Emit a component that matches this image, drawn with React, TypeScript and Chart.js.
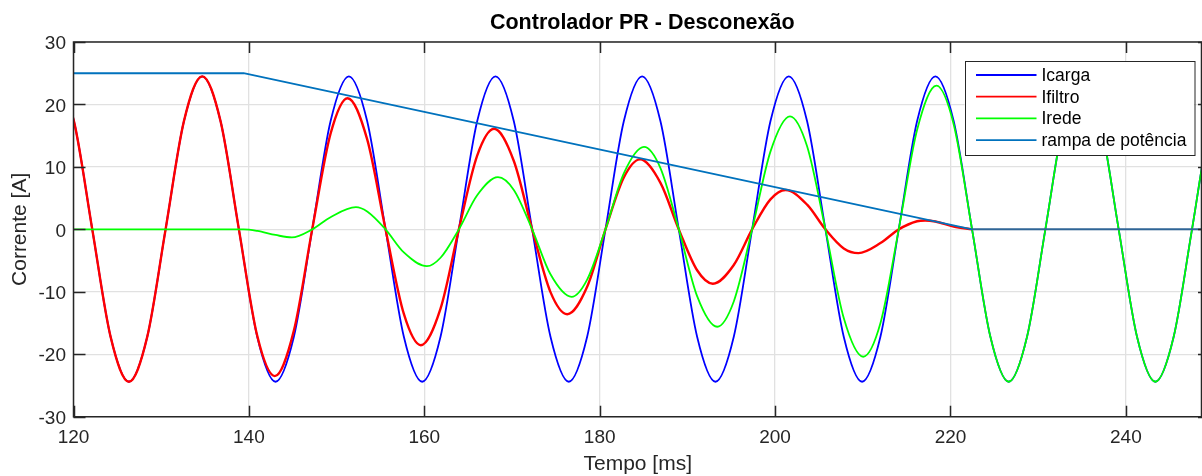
import React, { useEffect, useRef } from 'react';
import { Chart, registerables } from 'chart.js';

Chart.register(...registerables);

const TITLE = 'Controlador PR - Desconexão';
const X_LABEL = 'Tempo [ms]';
const Y_LABEL = 'Corrente [A]';

const xTicks = [120, 140, 160, 180, 200, 220, 240];
const yTicks = [-30, -20, -10, 0, 10, 20, 30];

const seriesNames = ['Icarga', 'Ifiltro', 'Irede', 'rampa de potência'];
const seriesColors = ['#0000ff', '#ff0000', '#00ff00', '#0072bd'];

// Icarga (load current) — time [ms], value [A]
const icargaT = [
  117.96, 120.05, 122.14, 124.23, 126.32, 128.41, 130.5, 132.59,
  134.68, 136.77, 138.86, 140.95, 143.04, 145.13, 147.22, 149.31,
  151.4, 153.49, 155.58, 157.67, 159.76, 161.85, 163.94, 166.03,
  168.12, 170.21, 172.3, 174.39, 176.48, 178.57, 180.66, 182.75,
  184.84, 186.93, 189.02, 191.11, 193.2, 195.29, 197.38, 199.47,
  201.56, 203.65, 205.74, 207.83, 209.92, 212.01, 214.1, 216.19,
  218.28, 220.37, 222.46, 224.55, 226.64, 228.73, 230.82, 232.91,
  235.0, 237.09, 239.18, 241.27, 243.36, 245.45, 247.54, 249.63,
  251.72,
];
const icargaV = [
  24.5, 17.3, 0, -17.2, -24.4, -17.2, 0, 17.3,
  24.5, 17.3, 0, -17.2, -24.4, -17.2, 0, 17.3,
  24.5, 17.3, 0, -17.2, -24.4, -17.2, 0, 17.3,
  24.5, 17.3, 0, -17.2, -24.4, -17.2, 0, 17.3,
  24.5, 17.3, 0, -17.2, -24.4, -17.2, 0, 17.3,
  24.5, 17.3, 0, -17.2, -24.4, -17.2, 0, 17.3,
  24.5, 17.3, 0, -17.2, -24.4, -17.2, 0, 17.3,
  24.5, 17.3, 0, -17.2, -24.4, -17.2, 0, 17.3,
  24.5,
];

// Ifiltro (filter current)
const ifiltroT = [
  117.96, 120.05, 122.14, 124.23, 126.32, 128.41, 130.5, 132.59,
  134.68, 136.77, 138.86, 140.95, 142.95, 145.13, 147.22, 149.31,
  151.25, 153.49, 155.58, 157.67, 159.6, 161.85, 163.94, 166.03,
  167.95, 170.21, 172.3, 174.39, 176.3, 178.57, 180.66, 182.75,
  184.6, 186.93, 189.02, 191.11, 192.9, 195.29, 197.38, 199.47,
  201.2, 203.65, 205.74, 207.83, 209.5, 212.01, 214.1, 216.19,
  217.1, 218.28, 220.37, 222.46,
];
const ifiltroV = [
  24.5, 17.3, 0, -17.2, -24.4, -17.2, 0, 17.3,
  24.5, 17.3, 0, -17.05, -23.5, -16.2, 0, 15.3,
  21.0, 14.4, 0, -13.55, -18.55, -12.7, 0, 11.8,
  16.1, 10.95, 0, -10.05, -13.6, -9.2, 0, 8.3,
  11.2, 7.45, 0, -6.55, -8.7, -5.7, 0, 4.8,
  6.3, 3.95, 0, -3.05, -3.8, -2.2, 0, 1.3,
  1.42, 1.25, 0.45, 0,
];

// Irede (grid current)
const iredeT = [
  117.96, 139.4, 140.95, 143.04, 144.9, 147.22, 149.31, 152.2,
  153.49, 155.58, 157.67, 160.3, 161.85, 163.94, 166.03, 168.4,
  170.21, 172.3, 174.39, 176.8, 178.57, 180.66, 182.75, 185.05,
  186.93, 189.02, 191.11, 193.4, 195.29, 197.38, 199.47, 201.7,
  203.65, 205.74, 207.83, 210.05, 212.01, 214.1, 216.19, 218.4,
  220.37, 222.46, 224.55, 226.64, 228.73, 230.82, 232.91, 235.0,
  237.09, 239.18, 241.27, 243.36, 245.45, 247.54, 249.63, 251.72,
];
const iredeV = [
  0, 0, -0.25, -0.9, -1.3, 0, 1.95, 3.55,
  2.85, 0, -3.7, -5.9, -4.55, 0, 5.45, 8.35,
  6.3, 0, -7.2, -10.8, -8.05, 0, 8.95, 13.2,
  9.8, 0, -10.7, -15.6, -11.55, 0, 12.45, 18.1,
  13.3, 0, -14.2, -20.4, -15.05, 0, 15.9, 23.0,
  16.8, 0, -17.2, -24.4, -17.2, 0, 17.3, 24.5,
  17.3, 0, -17.2, -24.4, -17.2, 0, 17.3, 24.5,
];

// rampa de potência
const rampaT = [120, 139.4, 222.46, 250];
const rampaV = [25, 25, 0, 0];

const FONT = "'Liberation Sans', Arial, Helvetica, sans-serif";
const AXIS_COLOR = '#262626';
const RAMP_ZERO_COLOR = '#2f6596';

const toPoints = (ts: number[], vs: number[]) => ts.map((t, i) => ({ x: t, y: vs[i] }));

const framePlugin = {
  id: 'matlabFrame',
  afterDatasetsDraw(chart: any) {
    const { ctx, chartArea, scales } = chart;
    const { left, right, top, bottom } = chartArea;
    const xs = scales.x;
    const ys = scales.y;
    ctx.save();
    ctx.strokeStyle = AXIS_COLOR;
    ctx.lineWidth = 1.5;
    ctx.beginPath();
    for (const v of xTicks) {
      const px = Math.round(xs.getPixelForValue(v)) + 0.5;
      ctx.moveTo(px, bottom);
      ctx.lineTo(px, bottom - 11);
      ctx.moveTo(px, top);
      ctx.lineTo(px, top + 11);
    }
    for (const v of yTicks) {
      const py = Math.round(ys.getPixelForValue(v)) + 0.5;
      ctx.moveTo(left, py);
      ctx.lineTo(left + 12, py);
      ctx.moveTo(right, py);
      ctx.lineTo(right - 4, py);
    }
    ctx.stroke();
    ctx.beginPath();
    ctx.moveTo(left, top);
    ctx.lineTo(right - 0.5, top);
    ctx.lineTo(right - 0.5, bottom);
    ctx.lineTo(left, bottom);
    ctx.closePath();
    ctx.stroke();
    ctx.restore();
  },
  afterDraw(chart: any) {
    const { ctx, chartArea } = chart;
    const { left, right, top } = chartArea;
    ctx.save();
    // title
    ctx.fillStyle = '#000';
    ctx.font = `bold 21.5px ${FONT}`;
    ctx.textAlign = 'center';
    ctx.textBaseline = 'middle';
    ctx.fillText(TITLE, (left + right) / 2 + 4.5, 23);

    // legend
    const bx = right - 237.5;
    const by = top + 19;
    const bw = 229.5;
    const bh = 94;
    ctx.fillStyle = '#fff';
    ctx.fillRect(bx, by, bw, bh);
    ctx.strokeStyle = AXIS_COLOR;
    ctx.lineWidth = 1;
    ctx.strokeRect(Math.round(bx) + 0.5, Math.round(by) + 0.5, bw, bh);
    ctx.font = `17.5px ${FONT}`;
    ctx.textAlign = 'left';
    ctx.textBaseline = 'middle';
    seriesNames.forEach((name, i) => {
      const yy = by + 14 + i * 21.7;
      ctx.strokeStyle = seriesColors[i];
      ctx.lineWidth = 1.8;
      ctx.beginPath();
      ctx.moveTo(bx + 11.5, yy);
      ctx.lineTo(bx + 72, yy);
      ctx.stroke();
      ctx.fillStyle = '#000';
      ctx.fillText(name, bx + 77, yy + 1);
    });
    ctx.restore();
  },
};

export default function App() {
  const ref = useRef<HTMLCanvasElement>(null);

  useEffect(() => {
    const canvas = ref.current;
    if (!canvas) return;
    const lineCommon = {
      pointRadius: 0,
      pointHoverRadius: 0,
      fill: false,
      borderJoinStyle: 'round' as const,
    };
    const chart = new Chart(canvas, {
      type: 'line',
      data: {
        datasets: [
          {
            ...lineCommon,
            label: seriesNames[0],
            data: toPoints(icargaT, icargaV),
            borderColor: seriesColors[0],
            borderWidth: 1.8,
            cubicInterpolationMode: 'monotone',
            order: 4,
          },
          {
            ...lineCommon,
            label: seriesNames[1],
            data: toPoints(ifiltroT, ifiltroV),
            borderColor: seriesColors[1],
            borderWidth: 2.4,
            cubicInterpolationMode: 'monotone',
            order: 3,
          },
          {
            ...lineCommon,
            label: seriesNames[2],
            data: toPoints(iredeT, iredeV),
            borderColor: seriesColors[2],
            borderWidth: 1.8,
            cubicInterpolationMode: 'monotone',
            order: 2,
          },
          {
            ...lineCommon,
            label: seriesNames[3],
            data: toPoints(rampaT, rampaV),
            borderColor: seriesColors[3],
            borderWidth: 1.8,
            tension: 0,
            order: 1,
            segment: {
              borderColor: (c: any) =>
                c.p0.parsed.y === 0 && c.p1.parsed.y === 0 ? RAMP_ZERO_COLOR : undefined,
              borderWidth: (c: any) => (c.p0.parsed.y === 0 && c.p1.parsed.y === 0 ? 2 : undefined),
            },
          },
        ],
      },
      options: {
        responsive: false,
        animation: false,
        devicePixelRatio: 1,
        events: [],
        layout: { padding: { top: 42, left: 0, right: 0, bottom: 0 } },
        plugins: {
          legend: { display: false },
          title: { display: false },
          tooltip: { enabled: false },
        },
        scales: {
          x: {
            type: 'linear',
            min: 120,
            max: 248.68,
            afterBuildTicks: (s: any) => {
              s.ticks = xTicks.map((v) => ({ value: v }));
            },
            afterFit: (s: any) => {
              s.height = 59.3;
            },
            grid: { color: '#e1e1e1', lineWidth: 1.3, drawTicks: false },
            border: { display: false },
            ticks: {
              font: { family: FONT, size: 19 },
              color: AXIS_COLOR,
              padding: 9.5,
              maxRotation: 0,
              autoSkip: false,
              callback: (v: any) => String(v),
            },
            title: {
              display: true,
              text: X_LABEL,
              color: AXIS_COLOR,
              font: { family: FONT, size: 21, lineHeight: 1 },
              padding: { top: 0, bottom: 1.5 },
            },
          },
          y: {
            type: 'linear',
            min: -30,
            max: 30,
            afterBuildTicks: (s: any) => {
              s.ticks = yTicks.map((v) => ({ value: v }));
            },
            afterFit: (s: any) => {
              s.width = 73.5;
            },
            grid: { color: '#e1e1e1', lineWidth: 1.3, drawTicks: false },
            border: { display: false },
            ticks: {
              font: { family: FONT, size: 19 },
              color: AXIS_COLOR,
              padding: 7.5,
              labelOffset: 2,
              autoSkip: false,
              callback: (v: any) => String(v),
            },
            title: {
              display: true,
              text: Y_LABEL,
              color: AXIS_COLOR,
              font: { family: FONT, size: 21, lineHeight: 1 },
              padding: { top: 9.5, bottom: 0 },
            },
          },
        },
      },
      plugins: [framePlugin],
    } as any);
    return () => chart.destroy();
  }, []);

  return (
    <div
      style={{
        position: 'fixed',
        left: 0,
        top: 0,
        width: 1202,
        height: 476,
        background: '#fff',
        overflow: 'hidden',
      }}
    >
      <canvas ref={ref} width={1202} height={476} style={{ display: 'block', width: 1202, height: 476 }} />
    </div>
  );
}
